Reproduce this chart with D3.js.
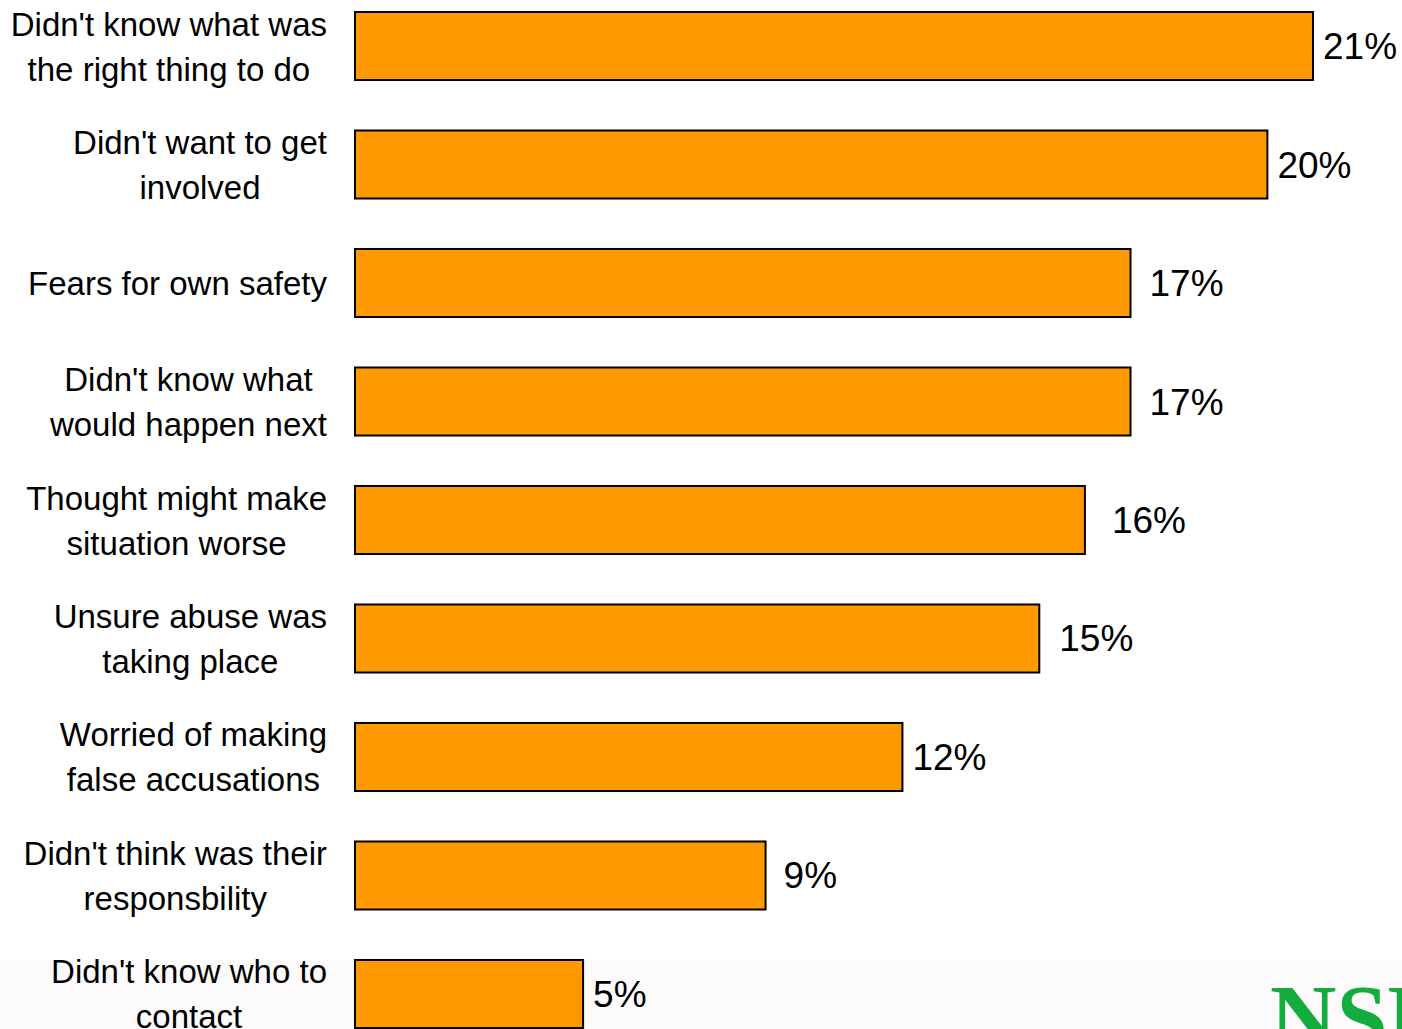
<!DOCTYPE html>
<html>
<head>
<meta charset="utf-8">
<script src="https://cdn.jsdelivr.net/npm/d3@7"></script>
<style>
  html, body { margin: 0; padding: 0; background: #fff; overflow: hidden; }
  svg { display: block; }
</style>
</head>
<body>
<svg id="chart" width="1402" height="1029"></svg>
<script>
// 데이터
var categories = [
  ["Didn't know what was", "the right thing to do"],
  ["Didn't want to get", "involved"],
  ["Fears for own safety"],
  ["Didn't know what", "would happen next"],
  ["Thought might make", "situation worse"],
  ["Unsure abuse was", "taking place"],
  ["Worried of making", "false accusations"],
  ["Didn't think was their", "responsbility"],
  ["Didn't know who to", "contact"]
];
var values = [21, 20, 17, 17, 16, 15, 12, 9, 5];
var valueLabels = ["21%", "20%", "17%", "17%", "16%", "15%", "12%", "9%", "5%"];

// 값 라벨 간격 (원본 슬라이드처럼 조금씩 다름)
var labelGap = [10, 10, 19, 19, 27, 20, 10, 18, 10];

var svg = d3.select("#chart");
var W = 1402, H = 1029;

// 아래쪽 옅은 바탕 + 로고
svg.append("rect")
  .attr("x", 0).attr("y", 960)
  .attr("width", W).attr("height", H - 960)
  .attr("fill", "#fcfafb");

svg.append("text")
  .attr("x", 1270)
  .attr("y", 1048)
  .attr("font-family", "'Liberation Serif', 'DejaVu Serif', serif")
  .attr("font-weight", "bold")
  .attr("font-size", 92)
  .attr("fill", "#12ad3c")
  .text("NSPCC");

// 축과 척도
var keys = categories.map(function(d, i){ return "c" + i; });
var y = d3.scaleBand().domain(keys).range([12, 1028]).paddingInner(0.426).paddingOuter(0);
var x = d3.scaleLinear().domain([0, 21]).range([355, 1313]);

var rows = svg.selectAll("g.row")
  .data(values)
  .enter()
  .append("g")
  .attr("class", "row");

// 막대
rows.append("rect")
  .attr("x", x(0))
  .attr("y", function(d, i){ return y(keys[i]); })
  .attr("width", function(d){ return x(d) - x(0); })
  .attr("height", y.bandwidth())
  .attr("fill", "#ff9900")
  .attr("stroke", "#000")
  .attr("stroke-width", 2);

// 값 표시
rows.append("text")
  .attr("x", function(d, i){ return x(d) + labelGap[i]; })
  .attr("y", function(d, i){ return y(keys[i]) + y.bandwidth() / 2 + 13; })
  .attr("font-family", "'Liberation Sans', Arial, sans-serif")
  .attr("font-size", 37)
  .attr("fill", "#000")
  .text(function(d, i){ return valueLabels[i]; });

// 항목 이름 (여러 줄, 가운데 정렬, 오른쪽 끝 327)
var lineH = 45;
categories.forEach(function(lines, i){
  var cy = y(keys[i]) + y.bandwidth() / 2;
  var t = svg.append("text")
    .attr("font-family", "'Liberation Sans', Arial, sans-serif")
    .attr("font-size", 33)
    .attr("fill", "#000")
    .attr("text-anchor", "middle");
  var spans = lines.map(function(s, j){
    return t.append("tspan")
      .attr("y", cy + (j - (lines.length - 1) / 2) * lineH + 12)
      .text(s);
  });
  var maxW = d3.max(spans, function(s){ return s.node().getComputedTextLength(); });
  spans.forEach(function(s){ s.attr("x", 327 - maxW / 2); });
});
</script>
</body>
</html>
